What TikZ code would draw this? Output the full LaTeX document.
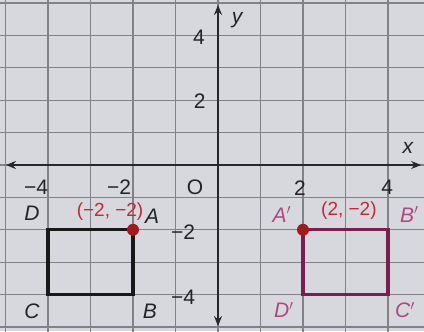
\documentclass[tikz,border=0pt]{standalone}
\usepackage{fontspec}
\setmainfont{Liberation Sans}
\usetikzlibrary{arrows.meta}
\definecolor{bgc}{RGB}{214,216,221}
\definecolor{gridc}{RGB}{128,130,136}
\definecolor{axc}{RGB}{40,40,44}
\definecolor{sqc}{RGB}{122,30,80}
\definecolor{primec}{RGB}{176,70,130}
\definecolor{dotc}{RGB}{165,25,30}
\definecolor{redt}{RGB}{192,40,60}
\definecolor{labc}{RGB}{35,35,40}
\tikzset{
  gridline/.style={draw=gridc, line width=1.2pt},
  axis/.style={draw=axc, line width=1.6pt, -{Stealth[length=10pt,width=8pt]}},
  tick/.style={text=labc, font=\fontsize{21}{21}\selectfont, inner sep=0pt},
  vlab/.style={text=labc, font=\fontsize{21}{21}\selectfont\itshape, inner sep=0pt},
  plab/.style={text=primec, font=\fontsize{21}{21}\selectfont\itshape, inner sep=0pt},
  redlab/.style={text=redt, font=\fontsize{19}{19}\selectfont, inner sep=0pt},
  sqb/.style={draw=black!90, line width=3.3pt, line join=miter},
  sqm/.style={draw=sqc, line width=3.3pt, line join=miter},
  pt/.style={circle, fill=dotc, inner sep=0pt, minimum size=12pt}
}
\begin{document}
\begin{tikzpicture}[x=42.5pt, y=32.4pt]
\fill[bgc] (-5.1294,-5.1235) rectangle (4.8471,5.0926);
\useasboundingbox (-5.1294,-5.1235) rectangle (4.8471,5.0926);
\begin{scope}
\clip (-5.1294,-5.1235) rectangle (4.8471,5.0926);
\foreach \i in {-5,...,5} {
  \draw[gridline] (\i,-5.2) -- (\i,5.2);
  \draw[gridline] (-5.2,\i) -- (5.2,\i);
}
\end{scope}
% axes
\coordinate (xl) at (-4.99,0);
\coordinate (xr) at (4.78,0);
\coordinate (yb) at (0,-4.97);
\coordinate (yt) at (0,4.94);
\coordinate (o) at (0,0);
\draw[axis] (o) -- (xr);
\draw[axis] (o) -- (xl);
\draw[axis] (o) -- (yt);
\draw[axis] (o) -- (yb);
% axis labels
\node[vlab] (ly) at (0.45,4.48) {y};
\node[vlab] (lx) at (4.47,0.52) {x};
% tick labels
\node[tick] (ty4) at (-0.45,3.95) {4};
\node[tick] (ty2) at (-0.43,1.98) {2};
\node[tick] (tym2) at (-0.82,-2.07) {−2};
\node[tick] (tym4) at (-0.82,-4.07) {−4};
\node[tick] (tO) at (-0.54,-0.68) {O};
\node[tick] (txm4) at (-4.28,-0.68) {−4};
\node[tick] (txm2) at (-2.33,-0.68) {−2};
\node[tick] (tx2) at (1.93,-0.70) {2};
\node[tick] (tx4) at (3.98,-0.70) {4};
% original square
\coordinate (A) at (-2,-2);
\coordinate (B) at (-2,-4);
\coordinate (C) at (-4,-4);
\coordinate (D) at (-4,-2);
\draw[sqb] (A) -- (B) -- (C) -- (D) -- cycle;
\node[pt] (pA) at (A) {};
\node[vlab] (lA) at (-1.55,-1.58) {A};
\node[vlab] (lB) at (-1.60,-4.52) {B};
\node[vlab] (lC) at (-4.38,-4.52) {C};
\node[vlab] (lD) at (-4.38,-1.48) {D};
\node[redlab] (cA) at (-2.54,-1.43) {(−2, −2)};
% image square
\coordinate (A1) at (2,-2);
\coordinate (B1) at (4,-2);
\coordinate (C1) at (4,-4);
\coordinate (D1) at (2,-4);
\draw[sqm] (A1) -- (B1) -- (C1) -- (D1) -- cycle;
\node[pt] (pA1) at (A1) {};
\node[plab] (lA1) at (1.50,-1.52) {A$'$};
\node[plab] (lB1) at (4.50,-1.52) {B$'$};
\node[plab] (lC1) at (4.40,-4.48) {C$'$};
\node[plab] (lD1) at (1.55,-4.48) {D$'$};
\node[redlab] (cA1) at (3.08,-1.40) {(2, −2)};
\end{tikzpicture}
\end{document}
